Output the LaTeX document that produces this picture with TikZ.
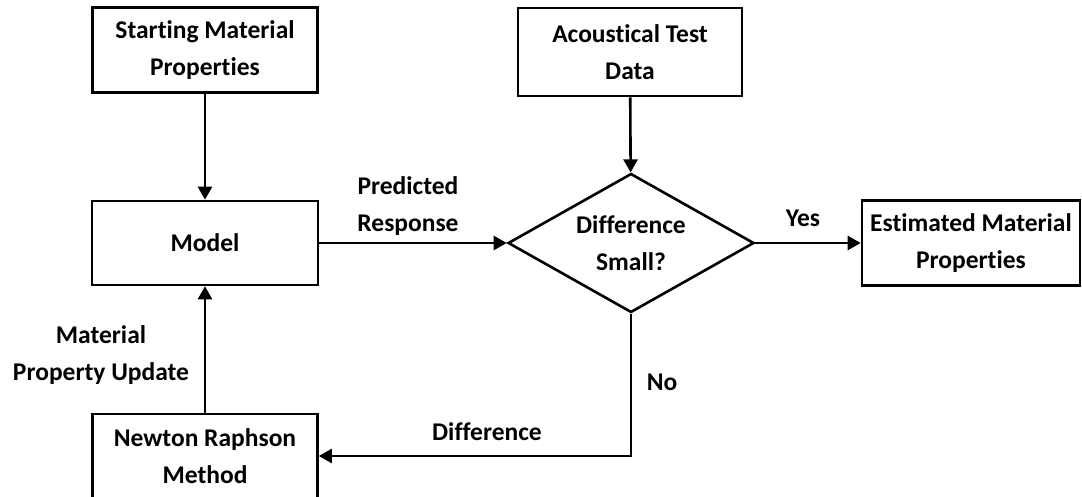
\documentclass[tikz,border=0pt]{standalone}
\usepackage{fontspec}
\setmainfont[Ligatures=NoCommon]{Carlito}
\usepackage{tikz}
\usetikzlibrary{positioning,arrows.meta,shapes.geometric}

\begin{document}
\begin{tikzpicture}[
    x=1pt, y=-1pt,
    every node/.style={font=\fontsize{25.5}{37}\selectfont\bfseries, align=center},
    block/.style={draw=black, line width=2.6pt, rectangle, inner sep=0pt},
    decision/.style={draw=black, line width=2.6pt, diamond, aspect=1.77, inner sep=0pt,
        minimum width=246, minimum height=139},
    flow/.style={line width=2.6pt, -{Triangle[length=13pt,width=14pt]}},
    lbl/.style={inner sep=0pt},
]
\useasboundingbox (0,0) rectangle (1082,497);

% =====================================================================
% Blocks
% =====================================================================
\node[block, minimum width=225, minimum height=85] (start) at (205,50)
    {Starting Material\\Properties};
\node[block, minimum width=224, minimum height=88] (acoust) at (630,52)
    {Acoustical Test\\Data};
\node[block, minimum width=226, minimum height=84] (model) at (205,243) {Model};
\node[decision] (diff) at (631,243) {Difference\\Small?};
\node[block, minimum width=218, minimum height=85] (est) at (971,243)
    {Estimated Material\\Properties};
\node[block, minimum width=225, minimum height=84] (newton) at (205,456)
    {Newton Raphson\\Method};

% =====================================================================
% Connectors
% =====================================================================
\draw[flow] (start) -- (model);
\draw[flow] (acoust) -- (diff);
\draw[flow] (model) -- (diff);
\draw[flow] (diff) -- (est);
\draw[flow] (diff.south) |- (newton.east);
\draw[flow] (newton) -- (model);

% Labels on the connectors
\node[lbl] (lpred) at (408,206) {Predicted\\Response};
\node[lbl] (lyes) at (803,218) {Yes};
\node[lbl] (lno) at (662,382) {No};
\node[lbl] (ldiff) at (487,432) {Difference};
\node[lbl] (lupd) at (101,355) {Material\\Property Update};

\end{tikzpicture}
\end{document}
